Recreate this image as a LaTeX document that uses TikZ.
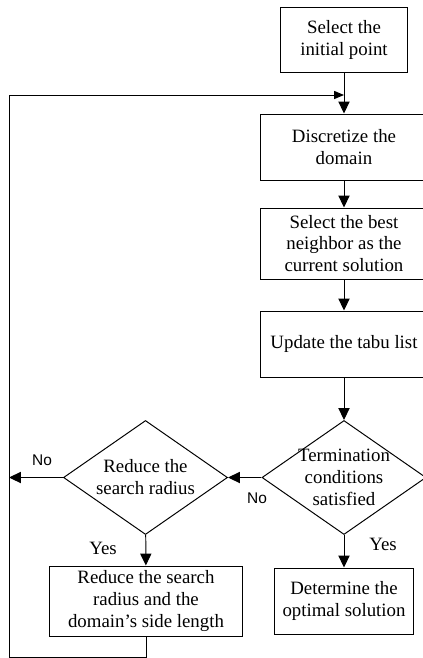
\documentclass[tikz,border=0pt]{standalone}
\usepackage{fontspec}
\setmainfont{Liberation Serif}
\newfontfamily\labelfont{Liberation Sans}
\usetikzlibrary{arrows.meta,shapes.geometric}

\begin{document}
\begin{tikzpicture}[x=0.025cm,y=-0.025cm,
  every node/.style={font=\fontsize{13.4}{15.6}\selectfont},
  stepbox/.style={draw,line width=0.7pt,align=center,inner sep=0pt},
  decision/.style={draw,diamond,line width=0.7pt,align=center,inner sep=-8pt,
    shape aspect=1.44,minimum width=4.1cm,minimum height=2.85cm},
  flow/.style={line width=0.7pt,-{Triangle[length=8.5pt,width=8pt]}},
  back/.style={line width=0.7pt,-{Triangle[length=7pt,width=5.7pt]}},
  answer/.style={font=\labelfont\fontsize{11}{12}\selectfont}]

  \useasboundingbox (0,0) rectangle (422,658);

  % ---- Main column -------------------------------------------
  \node[stepbox,minimum width=3.15cm,minimum height=1.625cm] (init) at (344,40)
    {Select the\\initial point};
  \node[stepbox,minimum width=4.15cm,minimum height=1.65cm] (disc) at (344,147)
    {Discretize the\\domain};
  \node[stepbox,minimum width=4.15cm,minimum height=1.775cm] (best) at (344,243.5)
    {Select the best\\neighbor as the\\current solution};
  \node[stepbox,minimum width=4.15cm,minimum height=1.65cm] (tabu) at (344,344)
    {Update the tabu list};
  \node[decision] (term) at (344,477.5) {Termination\\conditions\\satisfied};
  \node[stepbox,minimum width=3.45cm,minimum height=1.65cm] (opt) at (344,601)
    {Determine the\\optimal solution};

  % ---- Left column -------------------------------------------
  \node[decision] (reduce) at (145.5,477.5) {Reduce the\\search radius};
  \node[stepbox,minimum width=4.8cm,minimum height=1.75cm] (shrink) at (146,601)
    {Reduce the search\\radius and the\\domain’s side length};

  % ---- Loop corners ------------------------------------------
  \coordinate (loop) at (344,95);
  \coordinate (rail) at (9,477.5);
  \coordinate (corner) at (9,657);

  % ---- Connectors --------------------------------------------
  \draw[flow] (init) -- (disc);
  \draw[flow] (disc) -- (best);
  \draw[flow] (best) -- (tabu);
  \draw[flow] (tabu) -- (term);
  \draw[flow] (term.west) -- (reduce.east);
  \draw[flow] (term) -- (opt);
  \draw[flow] (reduce) -- (shrink);
  \draw[flow] (reduce.west) -- (rail);
  \draw[back] (shrink.south) |- (corner) |- (loop);

  % ---- Answers -----------------------------------------------
  \node[answer] (nofar) at (42,460) {No};
  \node[answer] (nonear) at (257,498) {No};
  \node (yesleft) at (103,548) {Yes};
  \node (yesright) at (383,544) {Yes};

\end{tikzpicture}
\end{document}
